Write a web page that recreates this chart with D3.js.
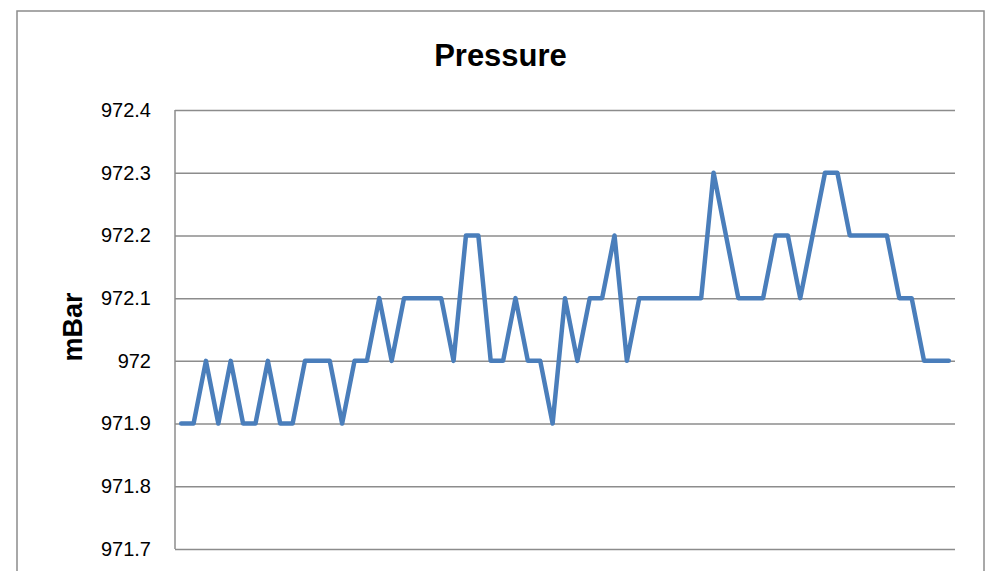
<!DOCTYPE html>
<html>
<head>
<meta charset="utf-8">
<script src="https://cdn.jsdelivr.net/npm/d3@7"></script>
<style>
  html, body { margin: 0; padding: 0; background: #fff; }
  svg { display: block; }
</style>
</head>
<body>
<svg id="chart" width="988" height="571"></svg>
<script>
// ---- data ----
const title = "Pressure";
const yAxisTitle = "mBar";
const yTicks = [971.7, 971.8, 971.9, 972.0, 972.1, 972.2, 972.3, 972.4];
const pressure = [
  971.9, 971.9, 972.0, 971.9, 972.0, 971.9, 971.9, 972.0, 971.9, 971.9,
  972.0, 972.0, 972.0, 971.9, 972.0, 972.0, 972.1, 972.0, 972.1, 972.1,
  972.1, 972.1, 972.0, 972.2, 972.2, 972.0, 972.0, 972.1, 972.0, 972.0,
  971.9, 972.1, 972.0, 972.1, 972.1, 972.2, 972.0, 972.1, 972.1, 972.1,
  972.1, 972.1, 972.1, 972.3, 972.2, 972.1, 972.1, 972.1, 972.2, 972.2,
  972.1, 972.2, 972.3, 972.3, 972.2, 972.2, 972.2, 972.2, 972.1, 972.1,
  972.0, 972.0, 972.0
];
const categories = pressure.map((d, i) => i + 1);

// ---- layout ----
const svg = d3.select("#chart");
const plot = { left: 175, right: 955, top: 110, bottom: 549 };

// outer frame
svg.append("rect")
  .attr("x", 17).attr("y", 11)
  .attr("width", 984 - 17).attr("height", 620)
  .attr("fill", "#fff").attr("stroke", "#8c8c8c").attr("stroke-width", 1.5);

const x = d3.scalePoint()
  .domain(categories)
  .range([plot.left, plot.right])
  .padding(0.5);

const y = d3.scaleLinear()
  .domain([d3.min(yTicks), d3.max(yTicks)])
  .range([plot.bottom, plot.top]);

// gridlines + labels via axis
const yAxis = d3.axisLeft(y)
  .tickValues(yTicks)
  .tickFormat(d => d3.format(".1f")(d).replace(/\.0$/, ""))
  .tickSize(-(plot.right - plot.left))
  .tickPadding(24);

const gY = svg.append("g")
  .attr("transform", `translate(${plot.left},0)`)
  .call(yAxis);
gY.select(".domain").remove();
gY.selectAll(".tick line")
  .attr("stroke", "#8c8c8c").attr("stroke-width", 1.5);
gY.selectAll(".tick text")
  .attr("fill", "#000")
  .style("font-family", "'Liberation Sans', Arial, sans-serif")
  .style("font-size", "20px");

// vertical axis line
svg.append("line")
  .attr("x1", plot.left).attr("x2", plot.left)
  .attr("y1", plot.top).attr("y2", plot.bottom)
  .attr("stroke", "#8c8c8c").attr("stroke-width", 1.5);

// series line
const line = d3.line()
  .x((d, i) => x(categories[i]))
  .y(d => y(d));

svg.append("path")
  .datum(pressure)
  .attr("d", line)
  .attr("fill", "none")
  .attr("stroke", "#4A7EBB")
  .attr("stroke-width", 4.5)
  .attr("stroke-linejoin", "round")
  .attr("stroke-linecap", "round");

// title
svg.append("text")
  .attr("x", 500.5).attr("y", 66)
  .attr("text-anchor", "middle")
  .style("font-family", "'Liberation Sans', Arial, sans-serif")
  .style("font-weight", "bold")
  .style("font-size", "31px")
  .text(title);

// y axis title
svg.append("text")
  .attr("transform", "translate(82,327) rotate(-90)")
  .attr("text-anchor", "middle")
  .style("font-family", "'Liberation Sans', Arial, sans-serif")
  .style("font-weight", "bold")
  .style("font-size", "27px")
  .text(yAxisTitle);
</script>
</body>
</html>
